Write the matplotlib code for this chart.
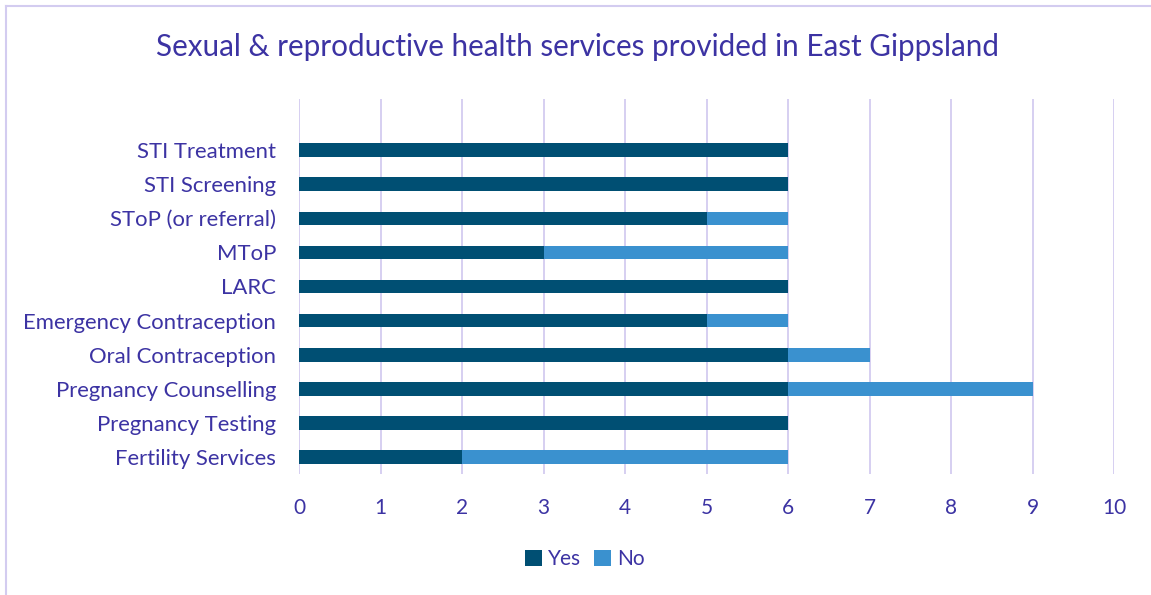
import matplotlib.pyplot as plt
import numpy as np
from matplotlib.lines import Line2D

categories = ['Fertility Services', 'Pregnancy Testing', 'Pregnancy Counselling',
              'Oral Contraception', 'Emergency Contraception', 'LARC', 'MToP',
              'SToP (or referral)', 'STI Screening', 'STI Treatment']
yes_values = [2, 6, 6, 6, 5, 6, 3, 5, 6, 6]
no_values = [4, 0, 3, 1, 1, 0, 3, 1, 0, 0]
x_ticks = [0, 1, 2, 3, 4, 5, 6, 7, 8, 9, 10]

text_color = '#3C33A3'
grid_color = '#D3CCF0'
yes_color = '#004F73'
no_color = '#3A91CF'

plt.rcParams['font.family'] = ['Lato', 'DejaVu Sans']

W, H = 1151, 595
fig = plt.figure(figsize=(W / 100, H / 100), dpi=100)
ax = fig.add_axes([299 / W, (H - 474) / H, (1114 - 299) / W, (474 - 99) / H])

y_positions = np.arange(len(categories))
bar_height = 0.4
ax.barh(y_positions, yes_values, bar_height, color=yes_color, label='Yes', zorder=3)
ax.barh(y_positions, no_values, bar_height, left=yes_values, color=no_color, label='No', zorder=3)

ax.set_xlim(0, 10)
ax.set_ylim(-0.5, 10.5)
ax.set_xticks(x_ticks)
ax.set_xticklabels([str(t) for t in x_ticks])
ax.set_yticks(y_positions)
ax.set_yticklabels(categories)
ax.tick_params(axis='both', length=0, colors=text_color)
ax.tick_params(axis='x', pad=17, labelsize=15)
ax.tick_params(axis='y', pad=16.5, labelsize=15.9)
ax.grid(axis='x', color=grid_color, linewidth=1.3, zorder=0)
for spine in ax.spines.values():
    spine.set_visible(False)

fig.text(578 / W, 1 - 47 / H, 'Sexual & reproductive health services provided in East Gippsland',
         ha='center', va='center', fontsize=21.3, color=text_color)

fig.legend(loc='center', bbox_to_anchor=(585 / W, 1 - 559 / H), ncol=2, frameon=False,
           fontsize=15, labelcolor=text_color, handlelength=0.8, handleheight=0.8,
           handletextpad=0.3, columnspacing=0.6)

# chart area border (left and top edges visible)
fig.add_artist(Line2D([5.5 / W, 5.5 / W], [0, 1 - 6 / H], color=grid_color, linewidth=1.5))
fig.add_artist(Line2D([5.5 / W, 1], [1 - 6 / H, 1 - 6 / H], color=grid_color, linewidth=1.5))

fig.savefig('out.png', dpi=100)
